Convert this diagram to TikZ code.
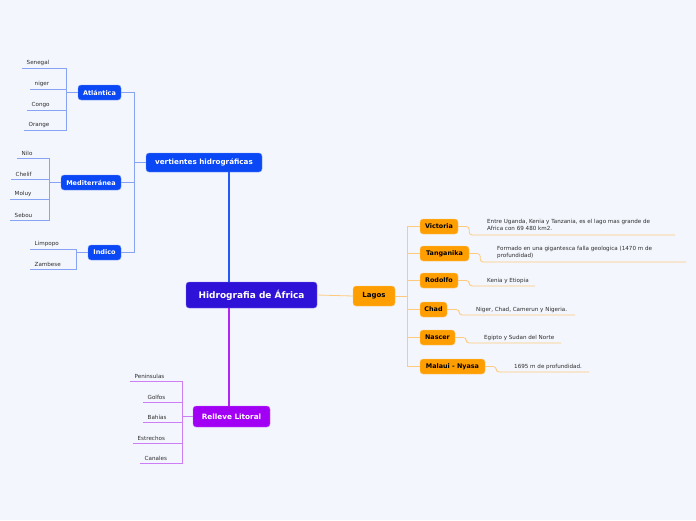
\documentclass[tikz,border=0pt]{standalone}
\usepackage{fontspec}
\setmainfont{DejaVu Sans}
\definecolor{bg}{RGB}{243,246,253}
\definecolor{mainc}{RGB}{46,18,216}
\definecolor{bluec}{RGB}{10,71,245}
\definecolor{bluel}{RGB}{135,163,245}
\definecolor{purc}{RGB}{161,0,245}
\definecolor{purl}{RGB}{205,125,245}
\definecolor{orc}{RGB}{255,158,0}
\definecolor{orl}{RGB}{255,202,125}
\definecolor{txt}{RGB}{45,45,45}
\begin{document}
\begin{tikzpicture}[x=1pt,y=-1pt,
  box/.style={rounded corners=3pt, inner sep=0pt, line width=0.4pt},
  rootbox/.style={box, fill=mainc, draw=mainc!60!white, text=white, font=\fontsize{9}{10}\selectfont\bfseries},
  bluebox/.style={box, fill=bluec, draw=bluec!55!white, text=white, font=\fontsize{6.5}{7}\selectfont\bfseries, minimum height=15},
  purbox/.style={box, fill=purc, draw=purc!55!white, text=white, font=\fontsize{7.3}{8}\selectfont\bfseries},
  orbox/.style={box, fill=orc, draw=orc!55!white, text=black, font=\fontsize{6.4}{7}\selectfont\bfseries, minimum height=15},
  leaf/.style={anchor=south west, inner xsep=4.5pt, inner ysep=1.8pt, text=txt, font=\fontsize{5.6}{6}\selectfont},
  desc/.style={inner sep=0pt, text=txt, align=left, font=\fontsize{5.6}{6.8}\selectfont},
  bthick/.style={draw=bluec!90!white, line width=1.8pt},
  pthick/.style={draw=purc!85!white, line width=1.8pt},
  bl/.style={draw=bluel, line width=0.8pt},
  pl/.style={draw=purl, line width=0.8pt},
  ol/.style={draw=orl, line width=0.8pt, rounded corners=3pt}]
\fill[bg] (0,0) rectangle (696,520);
\useasboundingbox (0,0) rectangle (696,520);

% main nodes
\node[rootbox, minimum width=131, minimum height=26] (root) at (251.5,295) {Hidrografia de África};
\node[bluebox, minimum width=116, minimum height=19, font=\fontsize{7.2}{8}\selectfont\bfseries] (vh) at (204,162.5) {vertientes hidrográficas};
\node[purbox, minimum width=77, minimum height=21] (rl) at (231.5,416.5) {Relleve Litoral};
\node[orbox, minimum width=42, minimum height=20, font=\fontsize{7}{8}\selectfont\bfseries] (lagos) at (374,296) {Lagos};

% main connectors
\draw[bthick] (vh.south -| 229,0) -- (root.north -| 229,0);
\draw[pthick] (root.south -| 229,0) -- (rl.north -| 229,0);
\draw[draw=orl, line width=0.8pt] (root.east) -- (lagos.west);

% vertientes children
\node[bluebox, minimum width=43] (atl) at (99.5,92.5) {Atlántica};
\node[bluebox, minimum width=60] (med) at (91,182.5) {Mediterránea};
\node[bluebox, minimum width=33] (ind) at (104.5,252.5) {Indico};
\foreach \c in {atl,med,ind} \draw[bl] (vh.west) -- ++(-11,0) |- (\c.east);

% Atlantica leaves
\node[leaf] (sen) at (22,68) {Senegal};
\node[leaf] (nig) at (30,89) {niger};
\node[leaf] (con) at (27,110) {Congo};
\node[leaf] (ora) at (24,130) {Orange};
\foreach \c in {sen,nig,con,ora} \draw[bl] (atl.west) -- ++(-11,0) |- (\c.south west);

% Mediterranea leaves
\node[leaf] (nil) at (17,158) {Nilo};
\node[leaf] (che) at (11,179) {Chelif};
\node[leaf] (mol) at (10,199) {Moluy};
\node[leaf] (seb) at (10,220) {Sebou};
\foreach \c in {nil,che,mol,seb} \draw[bl] (med.west) -- ++(-11,0) |- (\c.south west);

% Indico leaves
\node[leaf] (lim) at (30,249) {Limpopo};
\node[leaf] (zam) at (30,269) {Zambese};
\foreach \c in {lim,zam} \draw[bl] (ind.west) -- ++(-11,0) |- (\c.south west);

% Relleve leaves
\node[leaf] (pen) at (130,381) {Peninsulas};
\node[leaf] (gol) at (143,402) {Golfos};
\node[leaf] (bah) at (143,422) {Bahías};
\node[leaf] (est) at (133,443) {Estrechos};
\node[leaf] (can) at (140,463) {Canales};
\foreach \c in {pen,gol,bah,est,can} \draw[pl] (rl.west) -- ++(-10,0) |- (\c.south west);

% Lagos children
\node[orbox, minimum width=38] (vic) at (439,226.5) {Victoria};
\node[orbox, minimum width=49] (tan) at (444.5,253.5) {Tanganika};
\node[orbox, minimum width=38] (rod) at (439,280.5) {Rodolfo};
\node[orbox, minimum width=27] (cha) at (433.5,309.5) {Chad};
\node[orbox, minimum width=35] (nas) at (437.5,337.5) {Nascer};
\node[orbox, minimum width=65] (mal) at (452.5,366.5) {Malaui - Nyasa};
\foreach \c in {vic,tan,rod,cha,nas,mal} \draw[ol, rounded corners=0pt] (lagos.east) -- ++(12,0) |- (\c.west);

% descriptions
\coordinate (evic) at (675,235);
\coordinate (etan) at (686,262);
\coordinate (erod) at (535,286);
\coordinate (echa) at (575,315);
\coordinate (enas) at (561,343);
\coordinate (emal) at (589,372);
\draw[ol] (vic.east) -- ++(11,0) |- (evic);
\draw[ol] (tan.east) -- ++(11,0) |- (etan);
\draw[ol] (rod.east) -- ++(11,0) |- (erod);
\draw[ol] (cha.east) -- ++(12,0) |- (echa);
\draw[ol] (nas.east) -- ++(11,0) |- (enas);
\draw[ol] (mal.east) -- ++(11,0) |- (emal);

\node[desc, anchor=north west] (dvic) at (487,219.5) {Entre Uganda, Kenia y Tanzania, es el lago mas grande de\\Africa con 69 480 km2.};
\node[desc, anchor=north west] (dtan) at (497,246.5) {Formado en una gigantesca falla geologica (1470 m de\\profundidad)};
\node[desc, anchor=west] (drod) at (487,281) {Kenia y Etiopia};
\node[desc, anchor=west] (dcha) at (476,309.5) {Niger, Chad, Camerun y Nigeria.};
\node[desc, anchor=west] (dnas) at (484,338) {Egipto y Sudan del Norte};
\node[desc, anchor=west] (dmal) at (514,366.5) {1695 m de profundidad.};
\end{tikzpicture}
\end{document}
